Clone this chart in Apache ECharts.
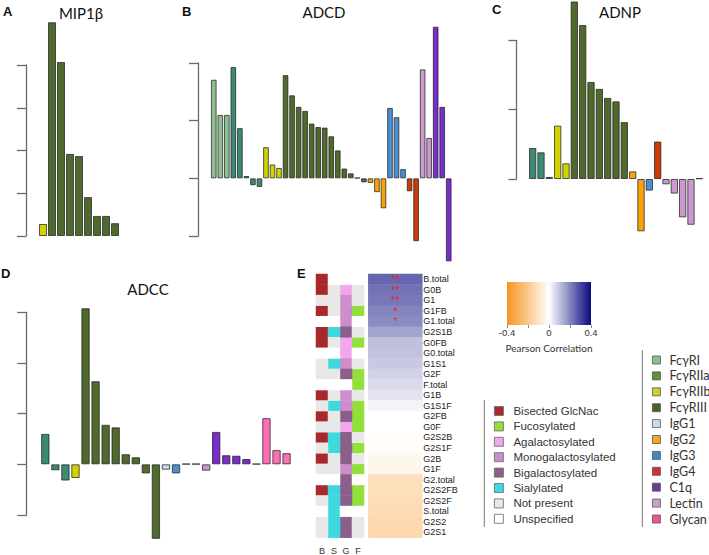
<!DOCTYPE html>
<html><head><meta charset="utf-8">
<script src="https://cdn.jsdelivr.net/npm/echarts@6.0.0/dist/echarts.min.js"></script>
<style>html,body{margin:0;padding:0;background:#fff}#c{width:709px;height:555px}</style>
</head><body><div id="c"></div>
<script>
// ---------- assay categories ----------
const assayTypes = ['FcγRI','FcγRIIa','FcγRIIb','FcγRIII','IgG1','IgG2','IgG3','IgG4','C1q','Lectin','Glycan'];
const barColors = ['#8dbf92','#3b8a76','#d2d200','#4f6a2c','#c4dcf2','#f8a20c','#4b8fd0','#cc3a06','#7a2ccc','#cc99cc','#ff6eb4'];
const legendAssayColors = ['#8fbf8f','#5f8f3a','#cccc33','#44622a','#c8dcf0','#f5a623','#3f88c8','#cc3333','#6a3d9a','#c9a0c9','#e8559a'];

// ---------- panel A: MIP1β ----------
const mipTypes  = ['FcγRIIb','FcγRIII','FcγRIII','FcγRIII','FcγRIII','FcγRIII','FcγRIII','FcγRIII','FcγRIII'];
const mipValues = [0.28, 5.0, 4.07, 1.92, 1.87, 0.91, 0.47, 0.47, 0.30];

// ---------- panel B: ADCD ----------
const adcdTypes = ['FcγRI','FcγRI','FcγRI',
  'FcγRIIa','FcγRIIa','FcγRIIa','FcγRIIa','FcγRIIa',
  'FcγRIIb','FcγRIIb','FcγRIIb',
  'FcγRIII','FcγRIII','FcγRIII','FcγRIII','FcγRIII','FcγRIII','FcγRIII','FcγRIII','FcγRIII','FcγRIII','FcγRIII','FcγRIII','FcγRIII',
  'IgG2','IgG2','IgG2','IgG3','IgG3','IgG3','IgG4','IgG4','Lectin','Lectin','C1q','C1q','C1q'];
const adcdValues = [1.71, 1.10, 1.10, 1.93, 0.87, 0.04, -0.12, -0.15, 0.54, 0.24, 0.18,
  1.79, 1.44, 1.24, 1.17, 0.95, 0.89, 0.88, 0.73, 0.485, 0.17, 0.087, 0.01, -0.07,
  -0.08, -0.24, -0.52, 1.22, 1.06, 0.16, -0.225, -1.09, 1.89, 0.70, 2.63, 1.24, -1.44];

// ---------- panel C: ADNP ----------
const adnpTypes = ['FcγRIIa','FcγRIIa','FcγRIIa','FcγRIIb','FcγRIIb',
  'FcγRIII','FcγRIII','FcγRIII','FcγRIII','FcγRIII','FcγRIII','FcγRIII',
  'IgG2','IgG2','IgG3','IgG4','Lectin','Lectin','Lectin','Lectin','Lectin'];
const adnpValues = [0.447, 0.385, 0.03, 0.77, 0.226, 2.56, 2.22, 1.40, 1.30, 1.17, 1.12, 0.82,
  0.11, -0.755, -0.168, 0.54, -0.077, -0.21, -0.553, -0.66, 0.01];

// ---------- panel D: ADCC ----------
const adccTypes = ['FcγRIIa','FcγRIIa','FcγRIIa','FcγRIIb',
  'FcγRIII','FcγRIII','FcγRIII','FcγRIII','FcγRIII','FcγRIII','FcγRIII','FcγRIII',
  'IgG1','IgG3','IgG4','IgG4','Lectin','C1q','C1q','C1q','C1q','C1q','Glycan','Glycan','Glycan'];
const adccValues = [0.60, -0.118, -0.32, -0.27, 3.08, 1.64, 0.78, 0.73, 0.20, 0.14, -0.18, -1.47,
  -0.105, -0.18, 0.01, 0.01, -0.125, 0.64, 0.18, 0.17, 0.105, 0.01, 0.91, 0.28, 0.22];

// ---------- panel E: glycan heatmap ----------
const glycanRows = ['B.total','G0B','G1','G1FB','G1.total','G2S1B','G0FB','G0.total','G1S1','G2F','F.total','G1B','G1S1F','G2FB','G0F','G2S2B','G2S1F','G2B','G1F','G2.total','G2S2FB','G2S2F','S.total','G2S2','G2S1'];
const correlation = [0.25, 0.23, 0.22, 0.20, 0.19, 0.15, 0.105, 0.10, 0.09, 0.075, 0.06, 0.045, 0.02, 0.0, 0.0, -0.005, -0.01, -0.03, -0.035, -0.115, -0.12, -0.125, -0.13, -0.14, -0.145];
const stars = ['**','**','**','*','*','','','','','','','','','','','','','','','','','','','',''];
const matrixColumns = ['B','S','G','F'];
const colB = ['bis','bis','np','bis','un','bis','bis','un','np','np','un','bis','np','bis','np','bis','np','bis','np','un','bis','np','un','np','np'];
const colS = ['un','np','np','np','un','sia','np','un','sia','np','un','np','sia','np','np','sia','sia','np','np','un','sia','sia','sia','sia','sia'];
const colG = ['un','aga','mono','mono','mono','bi','aga','aga','mono','bi','un','mono','mono','bi','aga','bi','bi','bi','mono','bi','bi','bi','un','bi','bi'];
const colF = ['un','np','np','fuc','un','np','fuc','un','np','fuc','fuc','np','fuc','fuc','fuc','np','fuc','np','fuc','un','fuc','fuc','un','np','np'];
const glycanCodes = ['bis','fuc','aga','mono','bi','sia','np','un'];
const glycanNames = ['Bisected GlcNac','Fucosylated','Agalactosylated','Monogalactosylated','Bigalactosylated','Sialylated','Not present','Unspecified'];
const glycanColors = ['#a8282c','#93e03c','#f2a6ee','#cc8fcc','#8a5f8a','#3fd8de','#e8e8e8','#ffffff'];
const corrScale = ['#f7931e','#ffffff','#0a0a80'];
const corrTicks = [-0.4, 0, 0.4];

// ---------- build ----------
const FONT_T = 'Lato, "Open Sans", sans-serif';
const FONT_A = '"Liberation Sans", Arial, sans-serif';
const axisGrey = '#6a6a6a';

const grids = [
  {left:38.5, top:65, width:81, height:171},
  {left:210.5, top:63, width:241.5, height:173},
  {left:528.5, top:40.3, width:175, height:138.7},
  {left:40.3, top:312.3, width:251.3, height:202.7},
  {left:316, top:274, width:48, height:263.7},
  {left:368.3, top:274, width:54, height:263.7},
  {left:507, top:282, width:84, height:43, show:true, borderWidth:0,
   backgroundColor: new echarts.graphic.LinearGradient(0,0,1,0,[
     {offset:0,color:corrScale[0]},{offset:0.5,color:corrScale[1]},{offset:1,color:corrScale[2]}])}
].map(g => Object.assign({outerBoundsMode:'none', containLabel:false}, g));

const panels = [
  {types: mipTypes, values: mipValues, min:0, max:4, offset:12.5, tick:9, gap:'11%'},
  {types: adcdTypes, values: adcdValues, min:-1, max:2, offset:12.5, tick:9, gap:'13%'},
  {types: adnpTypes, values: adnpValues, min:0, max:2, offset:12, tick:8, gap:'12%'},
  {types: adccTypes, values: adccValues, min:-1, max:3, offset:14, tick:9, gap:'17%'}
];

const xAxes = [], yAxes = [], series = [];
panels.forEach((p, gi) => {
  xAxes.push({type:'category', gridIndex:gi, data:p.values.map((_, j) => String(j)), show:false});
  yAxes.push({type:'value', gridIndex:gi, min:p.min, max:p.max, interval:1, offset:p.offset, position:'left',
    axisLine:{show:true, lineStyle:{color:axisGrey, width:1.3}},
    axisTick:{show:true, length:p.tick, lineStyle:{color:axisGrey, width:1.3}},
    axisLabel:{show:false}, splitLine:{show:false}});
  assayTypes.forEach((t, k) => {
    if (!p.types.includes(t)) return;
    series.push({type:'bar', name:t, xAxisIndex:gi, yAxisIndex:gi, silent:true, clip:false,
      barGap:'-100%', barCategoryGap:p.gap,
      data:p.values.map((v, j) => p.types[j] === t ? v : '-'),
      itemStyle:{color:barColors[k], borderColor:'rgba(35,35,35,0.75)', borderWidth:1}});
  });
});

// matrix grid (4)
xAxes.push({type:'category', gridIndex:4, data:matrixColumns, position:'bottom',
  axisLine:{show:false}, axisTick:{show:false},
  axisLabel:{fontSize:9, fontFamily:FONT_A, color:'#333', margin:9, interval:0}});
yAxes.push({type:'category', gridIndex:4, data:glycanRows, inverse:true, show:false});
const cols = [colB, colS, colG, colF];
glycanCodes.forEach((code, k) => {
  const data = [];
  cols.forEach((col, c) => col.forEach((v, r) => { if (v === code) data.push([c, r, 1]); }));
  series.push({type:'heatmap', name:glycanNames[k], xAxisIndex:4, yAxisIndex:4, silent:true,
    data, itemStyle:{color:glycanColors[k], borderWidth:0}});
});

// correlation grid (5)
xAxes.push({type:'category', gridIndex:5, data:['r'], show:false});
yAxes.push({type:'category', gridIndex:5, data:glycanRows, inverse:true, position:'right',
  axisLine:{show:false}, axisTick:{show:false},
  axisLabel:{fontSize:9, fontFamily:FONT_A, color:'#222', margin:1, interval:0}});
const corrSeriesIndex = series.length;
series.push({type:'heatmap', name:'Pearson Correlation', xAxisIndex:5, yAxisIndex:5, silent:true,
  data: glycanRows.map((_, r) => [0, r, correlation[r]]),
  label:{show:true, formatter:p => stars[p.dataIndex], color:'#e02828', fontSize:11, fontFamily:FONT_A},
  itemStyle:{borderWidth:0}});

// colorbar grid (6)
xAxes.push({type:'value', gridIndex:6, min:-0.4, max:0.4, interval:0.2, position:'bottom',
  axisLine:{show:false}, splitLine:{show:false},
  axisTick:{show:true, length:3, lineStyle:{color:'#888'}},
  axisLabel:{fontSize:9.5, fontFamily:FONT_A, color:'#333', margin:2,
    formatter: v => { const r = Math.round(v*10)/10; return corrTicks.includes(r) ? String(r) : ''; }},
  name:'Pearson Correlation', nameLocation:'middle', nameGap:18,
  nameTextStyle:{fontSize:10, fontFamily:FONT_T, color:'#333'}});
yAxes.push({type:'value', gridIndex:6, show:false, min:0, max:1});

const titleStyle = {fontFamily:FONT_T, fontSize:15, fontWeight:'normal', color:'#111'};
const letterStyle = {fontFamily:FONT_A, fontSize:13, fontWeight:'bold', color:'#111'};
const titles = [
  {text:'A', left:3, top:5, textStyle:letterStyle},
  {text:'MIP1β', left:81, top:5, textAlign:'center', textStyle:titleStyle},
  {text:'B', left:182, top:5, textStyle:letterStyle},
  {text:'ADCD', left:324, top:4, textAlign:'center', textStyle:titleStyle},
  {text:'C', left:492, top:3, textStyle:letterStyle},
  {text:'ADNP', left:620, top:4, textAlign:'center', textStyle:titleStyle},
  {text:'D', left:1, top:267, textStyle:letterStyle},
  {text:'ADCC', left:148, top:281, textAlign:'center', textStyle:titleStyle},
  {text:'E', left:297, top:267, textStyle:letterStyle}
].map(t => Object.assign({padding:0}, t));

const option = {
  animation:false,
  backgroundColor:'#ffffff',
  title:titles,
  grid:grids,
  xAxis:xAxes,
  yAxis:yAxes,
  visualMap:[{type:'continuous', show:false, min:-0.4, max:0.4, seriesIndex:corrSeriesIndex, dimension:2,
    inRange:{color:corrScale}}],
  legend:[
    {orient:'vertical', left:494, top:404, itemWidth:9, itemHeight:9, itemGap:1.4, icon:'rect',
     selectedMode:false, padding:0,
     textStyle:{fontFamily:FONT_A, fontSize:11.5, color:'#333', lineHeight:14, padding:[0,0,0,5]},
     data: glycanNames.map((n, k) => ({name:n, itemStyle:{color:glycanColors[k], borderColor:'#666', borderWidth:0.8}}))},
    {orient:'vertical', left:652, top:353, itemWidth:8, itemHeight:8, itemGap:1.9, icon:'rect',
     selectedMode:false, padding:0,
     textStyle:{fontFamily:FONT_T, fontSize:12.5, color:'#333', lineHeight:14, padding:[0,0,0,4]},
     data: assayTypes.map((n, k) => ({name:n, itemStyle:{color:legendAssayColors[k], borderColor:'#555', borderWidth:0.8}}))}
  ],
  graphic:[
    {type:'line', shape:{x1:484.3, y1:400, x2:484.3, y2:527}, style:{stroke:'#777', lineWidth:1}},
    {type:'line', shape:{x1:642.3, y1:350, x2:642.3, y2:527}, style:{stroke:'#777', lineWidth:1}}
  ],
  series:series
};

const chart = echarts.init(document.getElementById('c'), null, {renderer:'svg', width:709, height:555});
chart.setOption(option);
</script>
</body></html>
